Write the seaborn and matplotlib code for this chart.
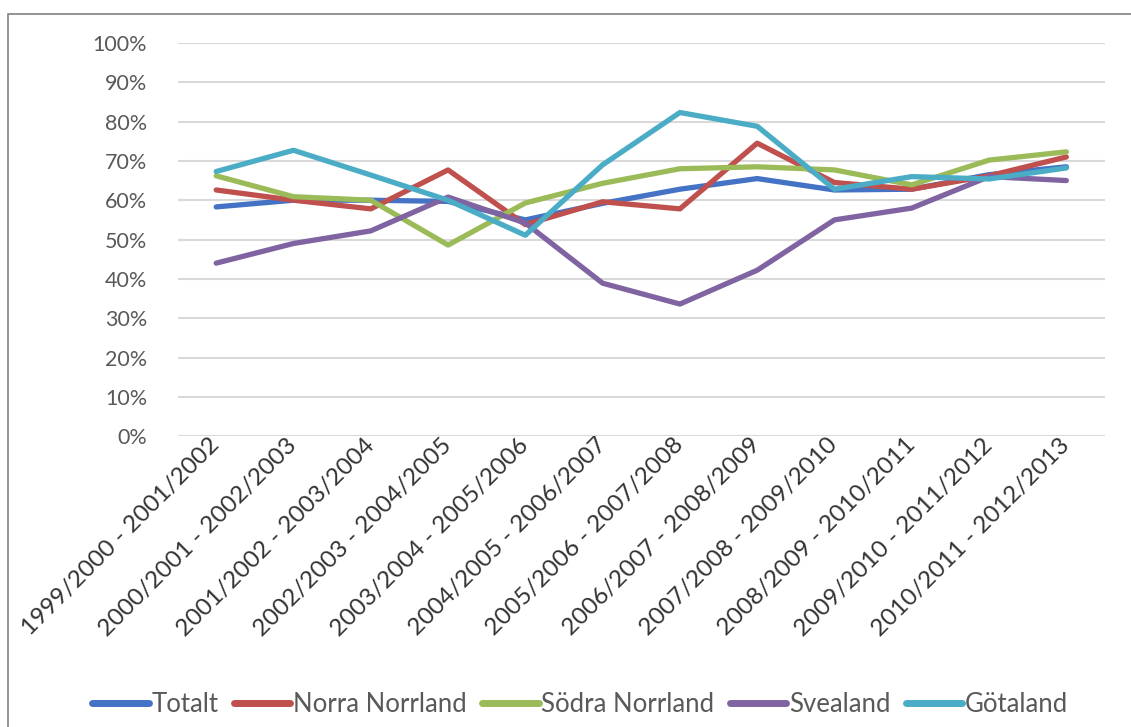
import matplotlib
matplotlib.use("Agg")
import matplotlib.pyplot as plt
import matplotlib.transforms as mtransforms
import seaborn as sns
import pandas as pd
from matplotlib.patches import Rectangle
from matplotlib.ticker import PercentFormatter

periods = [
    "1999/2000 - 2001/2002", "2000/2001 - 2002/2003", "2001/2002 - 2003/2004",
    "2002/2003 - 2004/2005", "2003/2004 - 2005/2006", "2004/2005 - 2006/2007",
    "2005/2006 - 2007/2008", "2006/2007 - 2008/2009", "2007/2008 - 2009/2010",
    "2008/2009 - 2010/2011", "2009/2010 - 2011/2012", "2010/2011 - 2012/2013",
]
totalt = [58.3, 60.0, 60.0, 59.7, 55.0, 59.2, 62.8, 65.5, 62.6, 62.8, 66.5, 68.5]
norra_norrland = [62.6, 60.0, 57.8, 67.7, 53.8, 59.6, 57.8, 74.5, 64.5, 62.8, 66.2, 71.0]
sodra_norrland = [66.2, 60.9, 60.0, 48.6, 59.3, 64.3, 68.0, 68.5, 67.7, 63.9, 70.2, 72.3]
svealand = [44.0, 49.0, 52.2, 60.8, 54.2, 38.9, 33.6, 42.2, 55.0, 58.0, 66.0, 65.0]
gotaland = [67.3, 72.7, 66.4, 60.0, 51.1, 69.0, 82.3, 78.8, 62.8, 66.0, 65.4, 68.2]

series_names = ["Totalt", "Norra Norrland", "Södra Norrland", "Svealand", "Götaland"]
series_values = [totalt, norra_norrland, sodra_norrland, svealand, gotaland]
colors = ["#4472C4", "#C0504D", "#9BBB59", "#8064A2", "#4BACC6"]

rows = []
for name, vals in zip(series_names, series_values):
    for i, (p, v) in enumerate(zip(periods, vals)):
        rows.append({"idx": i, "period": p, "serie": name, "value": v})
df = pd.DataFrame(rows)

sns.set_theme(style="white")
plt.rcParams["font.family"] = ["Lato", "DejaVu Sans"]

fig = plt.figure(figsize=(11.31, 7.27), dpi=100)
ax = fig.add_axes([0.157, 0.400, 0.820, 0.541])

sns.lineplot(data=df, x="idx", y="value", hue="serie", hue_order=series_names,
             palette=colors, linewidth=3.8, ax=ax, legend=True)

ax.set_xlim(-0.5, 11.5)
ax.set_ylim(0, 100)
ax.set_yticks(range(0, 101, 10))
ax.yaxis.set_major_formatter(PercentFormatter(decimals=0))
ax.set_xticks(range(len(periods)))
ax.set_xticklabels(periods, rotation=45, ha="right", va="center",
                   rotation_mode="anchor", fontsize=17.5, color="#333333")
offset = mtransforms.ScaledTranslation(0.10, -0.06, fig.dpi_scale_trans)
for lbl in ax.get_xticklabels():
    lbl.set_transform(lbl.get_transform() + offset)
ax.tick_params(axis="y", labelsize=15.5, colors="#595959", length=0, pad=22)
ax.tick_params(axis="x", length=0, pad=4)
ax.set_xlabel("")
ax.set_ylabel("")
ax.grid(axis="y", color="#D9D9D9", linewidth=1.5)
ax.set_axisbelow(True)
for s in ax.spines.values():
    s.set_visible(False)

handles, labels = ax.get_legend_handles_labels()
ax.legend_.remove()
leg = fig.legend(handles, labels, loc="center", bbox_to_anchor=(0.513, 0.031),
                 ncol=5, frameon=False, fontsize=18.5, handlelength=2.2,
                 handletextpad=0.1, columnspacing=0.6, labelcolor="#595959")
for line in leg.get_lines():
    line.set_linewidth(5)

fig.patches.append(Rectangle((8 / 1131, -0.1), 1.2, 1 - 14 / 727 + 0.1,
                             transform=fig.transFigure, fill=False,
                             edgecolor="#808080", linewidth=1.2))

fig.savefig("out.png", dpi=100, facecolor="white")
